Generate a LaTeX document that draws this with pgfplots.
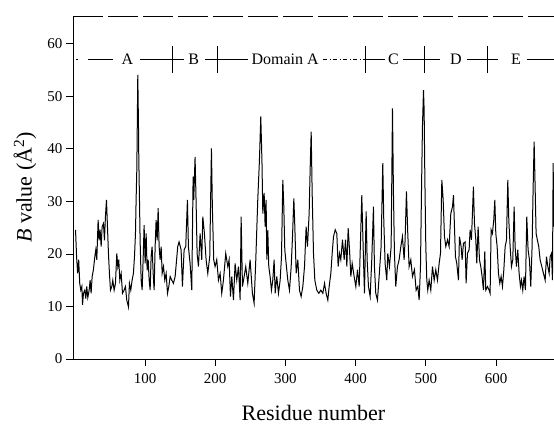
\documentclass[border=0pt]{standalone}
\usepackage{fontspec}
\setmainfont{Liberation Serif}
\usepackage{pgfplots}
\pgfplotsset{compat=1.18}
\begin{document}
\begin{tikzpicture}
\begin{axis}[
 scale only axis, width=481pt, height=343pt,
 xmin=-2.6, xmax=682.6, ymin=0, ymax=65.3,
 axis x line*=bottom, axis y line*=left,
 axis line style={line width=0.8pt, -},
 xtick={100,200,...,600}, ytick={0,10,...,60},
 tick align=outside, major tick length=7pt,
 tick style={line width=0.8pt, black},
 ticklabel style={font=\fontsize{15}{17}\selectfont},
 xticklabel style={yshift=-4pt},
 /pgf/number format/assume math mode=true,
 xlabel={Residue number},
 ylabel={\textit{B} value (Å\textsuperscript{2})},
 xlabel style={font=\fontsize{22}{24}\selectfont, at={(axis description cs:0.5,-0.158)}, anchor=center},
 ylabel style={font=\fontsize{22}{24}\selectfont, at={(axis description cs:-0.0998,0.5)}, anchor=center},
]
\addplot[black, line width=1.0pt, mark=none] table {
1 24.6
2.5 19.5
4 16.3
5.5 18.9
7 14.4
8.5 13.1
10 13.8
11 10.3
12.3 12.5
14.2 13.1
15.6 11.5
17 13.8
18.5 11.7
20.4 13.1
21.8 15.0
23.2 12.5
24.7 15.7
26.5 17.0
28.5 19.5
29.9 20.8
31.3 18.9
33.2 26.5
34.6 22.6
36 24.6
37.5 21.4
38.9 25.2
40.8 25.8
42.2 22.6
43.6 27.1
45.1 30.3
46.5 25.2
47.9 20.1
49.3 16.3
50.8 13.1
52.7 13.8
54.1 15.0
56 13.1
57.9 14.4
59.8 20.1
61.2 17.6
62.6 18.9
64.1 15.0
66 16.3
67.9 12.5
70.2 13.1
72.1 13.8
74 11.2
76.4 9.9
77.8 14.4
79.7 13.1
81.6 15.0
83.5 16.3
85 19.5
86.4 23.9
87.3 30.3
88.3 36.0
89.2 47.4
89.7 54.1
90.7 44.2
91.1 38.5
92.1 30.3
93 22.6
94.5 15.0
95.9 13.1
97.3 18.9
98.7 25.5
100.2 18.2
101.6 23.9
103 16.9
104.5 18.9
105.9 15.0
107.3 13.1
108.7 19.5
110.1 21.4
111.6 16.3
113 13.1
114.4 21.4
115.8 26.5
117.3 22.6
118.7 28.7
120.1 21.4
121.5 18.9
123 21.4
124.4 16.3
126.3 17.6
128.2 15.0
130.1 16.3
132 12.5
133.9 13.8
135.8 15.7
138.1 15.0
140.5 14.4
142.9 15.7
146.6 21.4
148.5 22.3
151.4 20.8
153.3 13.8
155.7 20.8
158 21.4
160.4 30.3
161.8 21.4
164.2 18.2
166.6 13.1
168.5 34.7
169.4 30.3
171.3 38.5
172.8 29.6
174.2 20.1
176.1 17.6
178.5 23.9
180.8 18.9
182.3 27.1
184.6 23.9
187 18.9
189.4 16.3
192.2 19.5
194.6 40.1
196 28.4
197.9 18.9
199.8 17.6
202.2 18.9
204.6 15.0
207 16.3
209.3 12.5
211.7 15.0
215 20.1
217.9 17.6
219.8 18.9
221.7 11.9
223.6 15.7
226 11.2
228.3 18.2
230.7 15.0
233.1 17.6
235.5 11.2
236.9 27.1
238.8 13.8
241.2 15.7
243.5 17.6
246.4 14.4
249.7 18.9
253 12.5
255.4 10.6
257.8 18.9
260.6 30.3
263 37.9
264.9 46.2
266.6 37.5
267.8 27.7
269.7 31.6
271.1 25.2
272.5 30.3
273.5 18.9
274.9 24.6
276.3 17.6
278.2 15.7
280.1 13.1
282 15.0
283.9 18.9
285.4 12.5
287.7 15.7
290.1 12.5
292.5 15.0
294.4 19.5
296.3 34.1
297.7 29.0
299.1 20.8
301 18.2
303.4 15.0
305.8 13.1
308.2 17.6
310.1 23.3
312 30.6
313.4 25.2
315.3 16.3
317.7 18.9
320 13.1
322.4 11.9
324.8 13.8
327.2 17.6
329.5 25.2
331.4 21.4
333.8 27.7
335.2 36.0
336.7 43.3
338.1 31.6
340 20.1
341.9 15.0
344.7 13.1
347.6 12.5
350.4 13.1
353.3 12.5
355.7 14.4
358 12.5
360.4 11.2
362.3 13.8
364.7 16.3
366.6 20.1
368.5 23.3
370.9 24.6
373.2 23.9
375.1 17.6
377 20.1
378.9 18.9
381.3 22.7
383.7 18.9
385.6 22.7
387.5 17.6
389.4 24.9
391.3 20.8
393.2 15.7
395.1 18.2
397.9 15.7
400.3 13.8
402.7 17.0
405.1 13.8
408.8 31.2
410.7 21.4
412.6 12.5
415 28.1
416.4 18.9
418.3 13.8
420.7 11.9
423 18.9
425.4 29.0
426.8 17.6
428.7 12.5
431.1 11.2
433.5 15.7
436.3 21.4
438.7 37.3
440.1 26.5
442 18.2
444.4 15.0
445.8 20.1
448.2 17.6
450.6 21.4
452.5 47.7
453.9 31.6
455.3 20.1
457.2 13.8
459.6 17.6
462 18.9
464.4 21.4
466.7 23.3
469.1 18.9
470.5 22.7
472.4 31.9
474.3 23.9
476.2 17.6
478.6 18.9
481 15.7
483.8 17.0
486.2 13.1
488.6 13.8
490.5 11.2
492.4 17.6
493.8 31.6
495.2 44.2
496.7 51.2
497.6 47.4
498.6 34.7
500 21.4
501.4 15.0
502.8 13.1
504.7 15.0
507.1 13.1
509.5 17.6
511.9 15.0
514.2 17.0
516.6 15.0
519 18.2
520.9 20.1
522.8 34.1
524.7 30.3
526.6 23.3
528.5 21.4
530.9 22.7
533.2 21.4
535.6 27.7
538 29.0
539.4 31.2
540.8 25.2
542.2 19.5
544.1 18.2
546.5 15.0
547.9 23.3
550.3 21.4
551.7 18.9
553.6 22.0
556 22.3
557.4 14.4
559.3 20.1
561.7 20.8
563.1 24.6
565 22.7
566.4 27.7
567.8 32.8
569.3 25.8
571.2 22.7
572.6 18.2
574.5 25.2
576.4 18.9
578.3 17.6
580.2 15.7
582.1 13.1
584 20.5
585.4 13.1
587.8 13.8
590.2 13.1
591.6 12.5
593 24.6
594.9 23.9
596.8 26.5
598.3 30.3
599.7 23.9
601.6 21.4
603.5 16.3
605.4 14.4
607.3 15.7
609.2 13.8
611.1 16.9
613 21.4
614.9 22.6
616.8 34.1
618.2 26.5
620.1 21.4
622 17.6
623.9 18.9
625.8 29.0
627.2 21.4
629.1 17.6
631 20.8
632.9 16.3
634.8 13.8
636.3 15.0
638.1 13.1
640 15.7
641.9 13.1
643.8 27.1
645.7 20.8
647.6 18.9
649.5 13.8
651.4 21.4
652.9 32.8
654.3 41.4
655.7 32.8
657.1 23.9
659 22.6
660.9 21.4
662.8 18.9
665.2 17.6
667.6 16.3
670 15.0
671.9 19.5
673.8 17.6
675.7 16.3
677.1 19.5
679 20.1
680.4 15.0
681.4 37.3
682.3 25.2
};
\draw[line width=0.8pt, dash pattern=on 30pt off 5pt] (rel axis cs:0,1) -- (rel axis cs:1,1);
\begin{scope}[line width=0.7pt, every node/.style={font=\fontsize{16}{18}\selectfont, inner sep=0pt}]
\draw (2,57) -- (5,57);
\draw (19.4,57) -- (54.6,57);
\node at (74.8,57) {A};
\draw (92.4,57) -- (155,57);
\draw (138.7,54.5) -- (138.7,59.5);
\node at (169.4,57) {B};
\draw (185.6,57) -- (246,57);
\draw (203,54.5) -- (203,59.5);
\node at (299.6,57) {Domain A};
\draw[dash pattern=on 4pt off 2.5pt on 1pt off 2.5pt] (354,57) -- (413.5,57);
\draw (413.5,57) -- (442,57);
\draw (413.5,54.5) -- (413.5,59.5);
\node at (453.8,57) {C};
\draw (467,57) -- (520,57);
\draw (497.6,54.5) -- (497.6,59.5);
\node at (543,57) {D};
\draw (558,57) -- (603,57);
\draw (587,54.5) -- (587,59.5);
\node at (628.6,57) {E};
\draw (643.6,57) -- (682,57);
\end{scope}
\end{axis}
\pgfresetboundingbox
\path (-73pt,-67pt) rectangle (481pt,359pt);
\end{tikzpicture}
\end{document}
